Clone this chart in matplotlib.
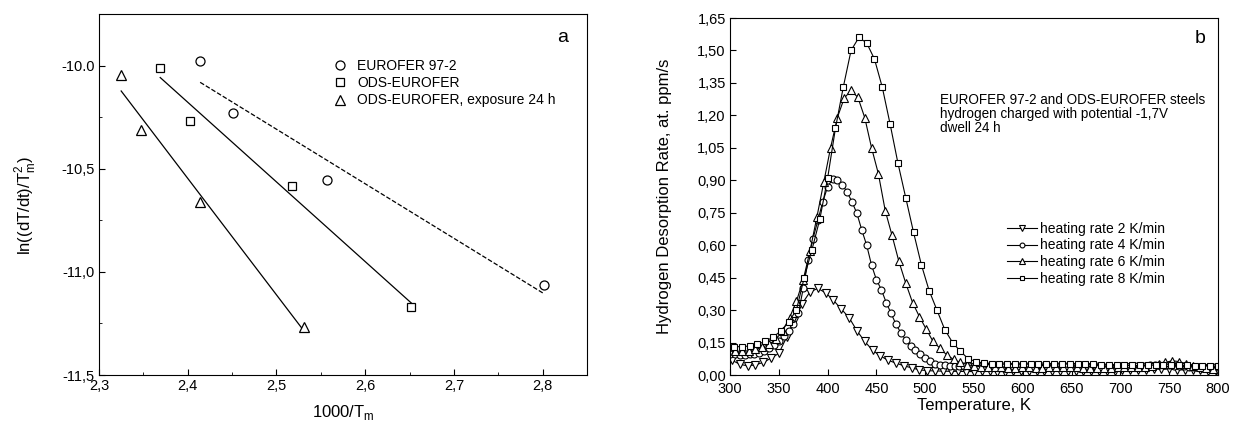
import matplotlib
matplotlib.use('Agg')
import matplotlib.pyplot as plt
import numpy as np

plt.rcParams['font.family'] = ['Liberation Sans', 'DejaVu Sans']

# ---- panel a: Kissinger plot ----
eurofer_x = [2.414, 2.451, 2.557, 2.801]
eurofer_y = [-9.976, -10.23, -10.553, -11.065]
ods_x = [2.369, 2.403, 2.518, 2.652]
ods_y = [-10.011, -10.27, -10.583, -11.168]
ods24_x = [2.325, 2.347, 2.414, 2.531]
ods24_y = [-10.045, -10.314, -10.659, -11.265]

a_xticks = [2.3, 2.4, 2.5, 2.6, 2.7, 2.8]
a_xlabels = ['2,3', '2,4', '2,5', '2,6', '2,7', '2,8']
a_yticks = [-11.5, -11.0, -10.5, -10.0]
a_ylabels = ['-11,5', '-11,0', '-10,5', '-10.0']

# ---- panel b: TDS spectra ----
T_2 = np.arange(302, 801, 8)
rate_2 = [0.068, 0.050, 0.042, 0.047, 0.058, 0.078, 0.100, 0.175, 0.250, 0.330,
          0.385, 0.400, 0.380, 0.345, 0.305, 0.265, 0.205, 0.155, 0.115, 0.088,
          0.068, 0.055, 0.043, 0.033, 0.024, 0.020, 0.019, 0.018, 0.017, 0.017,
          0.016, 0.016, 0.017, 0.017, 0.016, 0.016, 0.017, 0.018, 0.018, 0.017,
          0.017, 0.018, 0.018, 0.019, 0.019, 0.018, 0.018, 0.019, 0.020, 0.020,
          0.021, 0.022, 0.023, 0.025, 0.027, 0.028, 0.027, 0.025, 0.023, 0.022,
          0.021, 0.020, 0.020]

T_4 = np.arange(300, 801, 5)
rate_4 = [0.095, 0.095, 0.094, 0.094, 0.095, 0.098, 0.104, 0.113, 0.126, 0.141,
          0.158, 0.180, 0.205, 0.235, 0.285, 0.400, 0.530, 0.630, 0.715, 0.800,
          0.870, 0.905, 0.903, 0.880, 0.845, 0.800, 0.747, 0.670, 0.600, 0.508,
          0.440, 0.395, 0.335, 0.285, 0.235, 0.195, 0.163, 0.135, 0.114, 0.095,
          0.077, 0.063, 0.053, 0.048, 0.045, 0.043, 0.042, 0.041, 0.040, 0.040,
          0.040, 0.041, 0.041, 0.040, 0.040, 0.040, 0.041, 0.042, 0.042, 0.041,
          0.041, 0.042, 0.043, 0.043, 0.042, 0.042, 0.041, 0.041, 0.040, 0.040,
          0.040, 0.039, 0.039, 0.040, 0.040, 0.040, 0.039, 0.039, 0.038, 0.038,
          0.039, 0.039, 0.040, 0.040, 0.041, 0.042, 0.044, 0.046, 0.047, 0.046,
          0.044, 0.042, 0.041, 0.040, 0.039, 0.039, 0.038, 0.038, 0.037, 0.037,
          0.037]

T_6 = np.arange(305, 801, 7)
rate_6 = [0.110, 0.110, 0.112, 0.118, 0.128, 0.142, 0.165, 0.205, 0.265, 0.340,
          0.440, 0.575, 0.730, 0.890, 1.050, 1.190, 1.280, 1.315, 1.283, 1.190,
          1.050, 0.930, 0.760, 0.645, 0.525, 0.425, 0.335, 0.270, 0.212, 0.155,
          0.124, 0.093, 0.072, 0.058, 0.048, 0.042, 0.038, 0.036, 0.035, 0.035,
          0.034, 0.034, 0.035, 0.035, 0.034, 0.034, 0.035, 0.035, 0.036, 0.036,
          0.035, 0.034, 0.033, 0.033, 0.034, 0.034, 0.035, 0.035, 0.036, 0.037,
          0.039, 0.043, 0.050, 0.058, 0.066, 0.062, 0.052, 0.042, 0.036, 0.032,
          0.030]

T_8 = np.arange(304, 801, 8)
rate_8 = [0.131, 0.131, 0.134, 0.142, 0.155, 0.175, 0.203, 0.245, 0.300, 0.450,
          0.580, 0.720, 0.910, 1.140, 1.330, 1.500, 1.560, 1.535, 1.460, 1.330,
          1.160, 0.980, 0.820, 0.660, 0.510, 0.390, 0.300, 0.210, 0.150, 0.110,
          0.075, 0.062, 0.055, 0.052, 0.050, 0.050, 0.049, 0.050, 0.050, 0.049,
          0.050, 0.051, 0.050, 0.051, 0.052, 0.050, 0.049, 0.048, 0.046, 0.045,
          0.045, 0.044, 0.044, 0.045, 0.046, 0.047, 0.048, 0.046, 0.044, 0.043,
          0.042, 0.042, 0.041]

b_xticks = [300, 350, 400, 450, 500, 550, 600, 650, 700, 750, 800]
b_yticks = [0.0, 0.15, 0.30, 0.45, 0.60, 0.75, 0.90, 1.05, 1.20, 1.35, 1.50, 1.65]
b_ylabels = ['0,00', '0,15', '0,30', '0,45', '0,60', '0,75', '0,90', '1,05',
             '1,20', '1,35', '1,50', '1,65']

fig = plt.figure(figsize=(12.39, 4.28), dpi=100)
ax1 = fig.add_axes([0.0799, 0.1238, 0.3939, 0.8435])
ax2 = fig.add_axes([0.5892, 0.1238, 0.3939, 0.8341])

mk = dict(mfc='white', mec='black', mew=0.9, color='black', linestyle='none')

# panel a
ax1.plot(eurofer_x, eurofer_y, marker='o', ms=6.5, label='EUROFER 97-2', **mk)
ax1.plot(ods_x, ods_y, marker='s', ms=6, label='ODS-EUROFER', **mk)
ax1.plot(ods24_x, ods24_y, marker='^', ms=7, label='ODS-EUROFER, exposure 24 h', **mk)

for xs, ys, ls in [(eurofer_x, eurofer_y, '--'), (ods_x, ods_y, '-'), (ods24_x, ods24_y, '-')]:
    k, b = np.polyfit(xs, ys, 1)
    xx = np.array([min(xs), max(xs)])
    ax1.plot(xx, k * xx + b, color='black', lw=0.9, ls=ls, zorder=1)

ax1.set_xlim(2.3, 2.85)
ax1.set_ylim(-11.5, -9.75)
ax1.set_xticks(a_xticks)
ax1.set_xticklabels(a_xlabels)
ax1.set_yticks(a_yticks)
ax1.set_yticklabels(a_ylabels)
ax1.set_xticks([2.35, 2.45, 2.55, 2.65, 2.75], minor=True)
ax1.set_yticks([-11.25, -10.75, -10.25], minor=True)
ax1.tick_params(direction='in', labelsize=10.5, length=4, pad=3)
ax1.tick_params(which='minor', direction='in', length=2)
ax1.set_xlabel(r'1000/T$_\mathregular{m}$', fontsize=12)
ax1.xaxis.set_label_coords(0.5, -0.078)
ax1.set_ylabel(r'ln((dT/dt)/T$_\mathregular{m}^\mathregular{2}$)', fontsize=12)
ax1.yaxis.set_label_coords(-0.125, 0.47)
ax1.legend(loc='upper left', bbox_to_anchor=(0.466, 0.89), frameon=False,
           fontsize=10, handlelength=1.2, handletextpad=0.6, labelspacing=0.22,
           borderaxespad=0)
ax1.text(0.951, 0.936, 'a', transform=ax1.transAxes, fontsize=14,
         ha='center', va='center')

# panel b
lk = dict(color='black', lw=0.8, mfc='white', mec='black', mew=0.8)
ax2.plot(T_2, rate_2, marker='v', ms=6, label='heating rate 2 K/min', **lk)
ax2.plot(T_4, rate_4, marker='o', ms=5, label='heating rate 4 K/min', **lk)
ax2.plot(T_6, rate_6, marker='^', ms=6, label='heating rate 6 K/min', **lk)
ax2.plot(T_8, rate_8, marker='s', ms=5, label='heating rate 8 K/min', **lk)

ax2.set_xlim(300, 800)
ax2.set_ylim(0, 1.65)
ax2.set_xticks(b_xticks)
ax2.set_yticks(b_yticks)
ax2.set_yticklabels(b_ylabels)
ax2.tick_params(direction='in', labelsize=10.5, length=4, pad=3)
ax2.tick_params(axis='x', pad=5)
ax2.set_xlabel('Temperature, K', fontsize=12)
ax2.xaxis.set_label_coords(0.5, -0.064)
ax2.set_ylabel('Hydrogen Desorption Rate, at. ppm/s', fontsize=12)
ax2.yaxis.set_label_coords(-0.119, 0.5)
ax2.legend(loc='upper left', bbox_to_anchor=(0.556, 0.445), frameon=False,
           fontsize=10, handlelength=2.2, handletextpad=0.2, labelspacing=0.2,
           borderaxespad=0, markerscale=0.7)
ax2.text(0.43, 0.79, 'EUROFER 97-2 and ODS-EUROFER steels\n'
         'hydrogen charged with potential -1,7V\ndwell 24 h',
         transform=ax2.transAxes, fontsize=9.75, ha='left', va='top', linespacing=1.0)
ax2.text(0.963, 0.944, 'b', transform=ax2.transAxes, fontsize=14,
         ha='center', va='center')

plt.savefig('out.png', dpi=100)
plt.close()
